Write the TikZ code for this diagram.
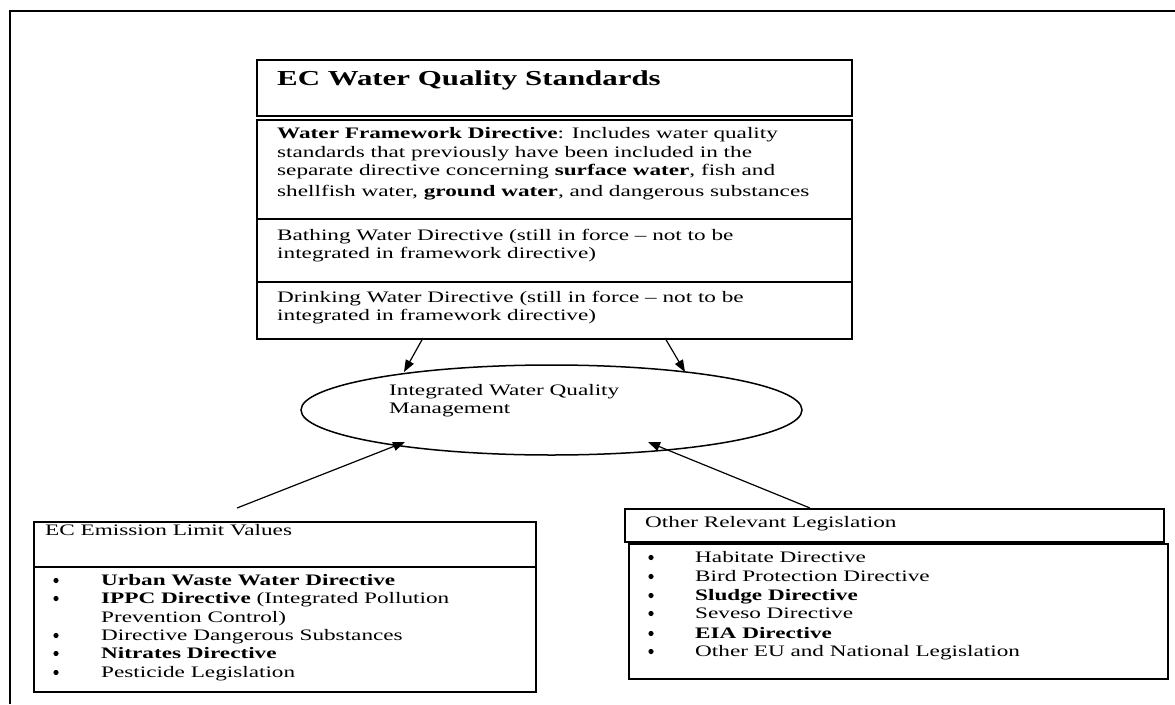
\documentclass[tikz,border=0pt]{standalone}
\usepackage{fontspec}
\setmainfont{Liberation Serif}[FakeStretch=1.45]
\usetikzlibrary{arrows.meta}
\begin{document}
\begin{tikzpicture}[x=1pt,y=-1pt,
  box/.style={draw=black,line width=1.5pt,inner sep=0,anchor=north west},
  txt/.style={inner sep=0,anchor=base west,font=\fontsize{16}{18.4}\selectfont},
  ttl/.style={inner sep=0,anchor=base west,font=\fontsize{21.3}{24}\selectfont\bfseries},
  bul/.style={circle,fill=black,inner sep=0,minimum size=5.2pt},
  arr/.style={line width=1.2pt,-{Triangle[length=12pt,width=9pt]}}]
\useasboundingbox (0,0) rectangle (1175,704);
% outer frame
\draw[line width=2pt] (10,704) -- (10,11) -- (1175,11);

% top standards boxes
\node[box,minimum width=595pt,minimum height=56pt] (title) at (256,59) {};
\node[ttl] (titletxt) at (277,85) {EC Water Quality Standards};
\node[box,minimum width=595pt,minimum height=219pt] (std) at (256,119) {};
\draw[line width=1.5pt] (256,219) -- (851,219);
\draw[line width=1.5pt] (256,282) -- (851,282);

\node[txt] (w1) at (277,138) {\textbf{Water Framework Directive}: Includes water quality};
\node[txt] (w2) at (277,157) {standards that previously have been included in the};
\node[txt] (w3) at (277,175) {separate directive concerning \textbf{surface water}, fish and};
\node[txt] (w4) at (277,196) {shellfish water, \textbf{ground water}, and dangerous substances};
\node[txt] (b1) at (277,240) {Bathing Water Directive (still in force – not to be};
\node[txt] (b2) at (277,258) {integrated in framework directive)};
\node[txt] (d1) at (277,302) {Drinking Water Directive (still in force – not to be};
\node[txt] (d2) at (277,320) {integrated in framework directive)};

% ellipse
\draw[line width=1.5pt] (551.5,410) ellipse [x radius=250.5, y radius=45];
\node[txt] (i1) at (389,395) {Integrated Water Quality};
\node[txt] (i2) at (389,413) {Management};

% EC emission box
\node[box,minimum width=502pt,minimum height=170pt] (emis) at (33,521) {};
\draw[line width=1.5pt] (33,567) -- (535,567);
\node[txt] (et) at (45,535) {EC Emission Limit Values};
\node[bul] (eb1) at (56,580.5) {};
\node[txt] (e1) at (101,585) {\textbf{Urban Waste Water Directive}};
\node[bul] (eb2) at (56,598.5) {};
\node[txt] (e2) at (101,603) {\textbf{IPPC Directive} (Integrated Pollution};
\node[txt] (e2b) at (101,622) {Prevention Control)};
\node[bul] (eb3) at (56,635.5) {};
\node[txt] (e3) at (101,640) {Directive Dangerous Substances};
\node[bul] (eb4) at (56,653.5) {};
\node[txt] (e4) at (101,658) {\textbf{Nitrates Directive}};
\node[bul] (eb5) at (56,672.5) {};
\node[txt] (e5) at (101,677) {Pesticide Legislation};

% other legislation boxes
\node[box,minimum width=539pt,minimum height=33pt] (oth) at (624,508) {};
\node[txt] (ot) at (645,527) {Other Relevant Legislation};
\node[box,minimum width=539pt,minimum height=135pt] (othl) at (628,543) {};
\node[bul] (ob1) at (651,557.5) {};
\node[txt] (o1) at (695,562) {Habitate Directive};
\node[bul] (ob2) at (651,576.5) {};
\node[txt] (o2) at (695,581) {Bird Protection Directive};
\node[bul] (ob3) at (651,595.5) {};
\node[txt] (o3) at (695,600) {\textbf{Sludge Directive}};
\node[bul] (ob4) at (651,613.5) {};
\node[txt] (o4) at (695,618) {Seveso Directive};
\node[bul] (ob5) at (651,633.5) {};
\node[txt] (o5) at (695,638) {\textbf{EIA Directive}};
\node[bul] (ob6) at (651,651.5) {};
\node[txt] (o6) at (695,656) {Other EU and National Legislation};

% connectors
\coordinate (a1s) at (423,338);
\coordinate (a1e) at (404,372);
\coordinate (a2s) at (665,338);
\coordinate (a2e) at (685,372);
\coordinate (a3s) at (237,508);
\coordinate (a3e) at (405,442);
\coordinate (a4s) at (810,508);
\coordinate (a4e) at (648,442);
\draw[arr] (a1s) -- (a1e);
\draw[arr] (a2s) -- (a2e);
\draw[arr] (a3s) -- (a3e);
\draw[arr] (a4s) -- (a4e);
\end{tikzpicture}
\end{document}
